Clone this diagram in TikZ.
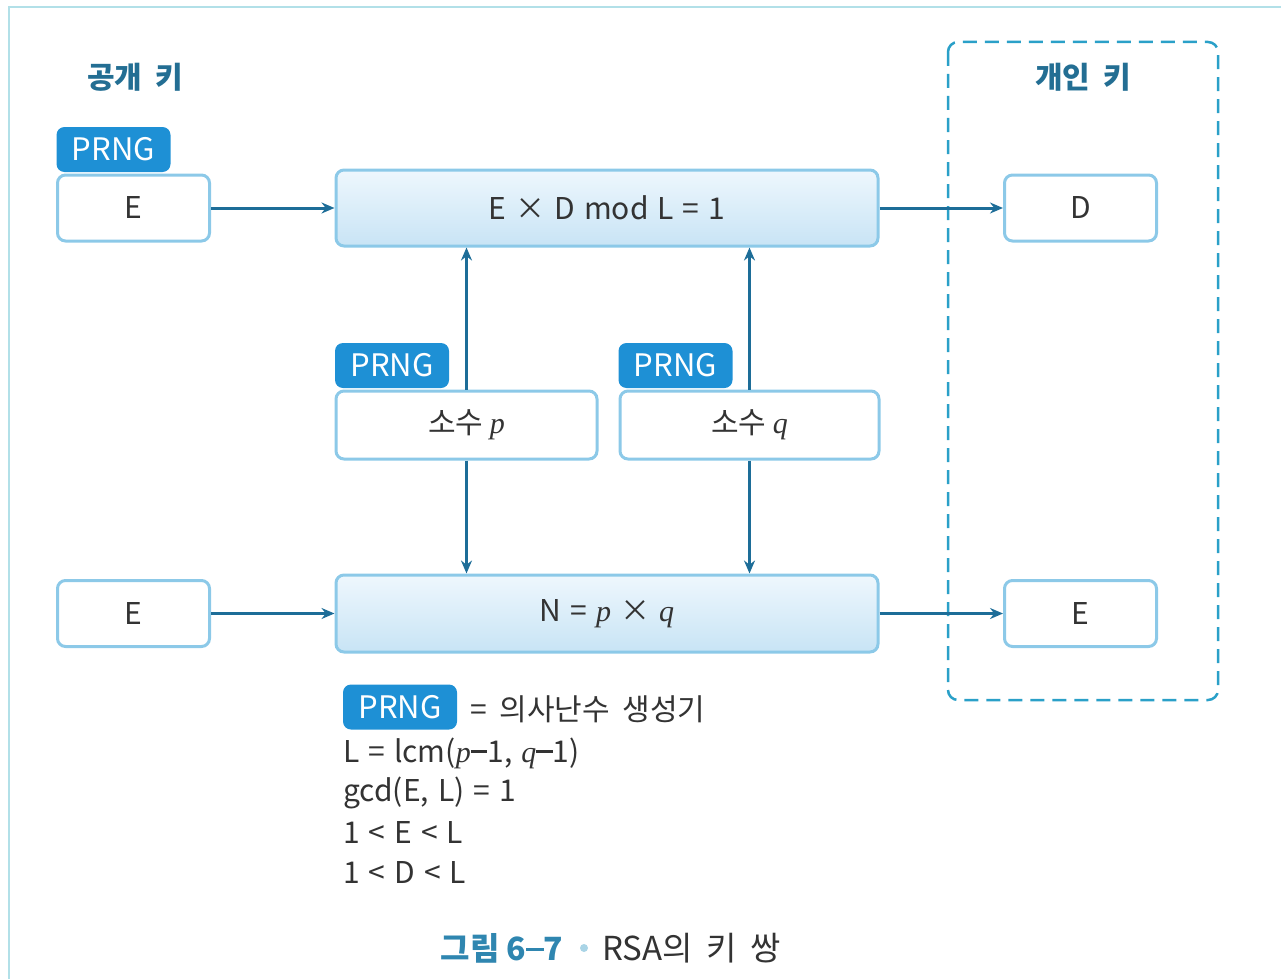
\documentclass[tikz,border=0pt]{standalone}
\usepackage{fontspec}
\setmainfont{Noto Sans CJK KR}
\newfontfamily\serifit{Liberation Serif}[ItalicFont=* Italic]
\usetikzlibrary{arrows.meta,calc}
\definecolor{arrc}{HTML}{1D6D98}
\definecolor{boxc}{HTML}{8CC9E8}
\definecolor{prngc}{HTML}{1E90D5}
\definecolor{headc}{HTML}{236E93}
\definecolor{dashc}{HTML}{2AA0C8}
\definecolor{framec}{HTML}{B2E0E8}
\definecolor{capc}{HTML}{2F86B0}
\definecolor{dotc}{HTML}{A9D4E6}
\definecolor{txtc}{HTML}{333333}
\definecolor{gtop}{HTML}{EEF7FD}
\definecolor{gbot}{HTML}{C8E4F5}
\newcommand{\mi}[1]{{\serifit\itshape #1}}
\newcommand{\mns}{\raisebox{0.3em}{\rule{0.55em}{2.6pt}}}
\newcommand{\wide}{\spaceskip=0.42em\relax}
\newcommand{\midw}{\spaceskip=0.3em\relax}
\begin{document}
\begin{tikzpicture}[x=1pt,y=-1pt,
  every node/.style={text=txtc, inner sep=0pt},
  keybox/.style={draw=boxc, line width=3pt, rounded corners=8pt, fill=white,
    minimum width=152pt, minimum height=66pt, font=\fontsize{30}{36}\selectfont},
  bigbox/.style={draw=boxc, line width=3pt, rounded corners=8pt, top color=gtop, bottom color=gbot,
    minimum width=542pt, minimum height=76pt, font=\fontsize{30}{36}\selectfont\midw},
  primebox/.style={draw=boxc, line width=3pt, rounded corners=8pt, fill=white,
    minimum height=68pt, font=\fontsize{30}{36}\selectfont},
  prng/.style={fill=prngc, rounded corners=8pt, text=white, minimum width=114pt, minimum height=45pt,
    font=\fontsize{31}{36}\selectfont},
  arr/.style={draw=arrc, line width=3pt, -{Stealth[length=13pt,width=11pt]}},
  head/.style={text=headc, font=\fontsize{30}{36}\selectfont\bfseries\wide},
  legend/.style={anchor=west, font=\fontsize{30}{36}\selectfont\midw}
]
\useasboundingbox (0,0) rectangle (1281,979);
% outer frame
\draw[framec, line width=2.5pt] (9,979) -- (9,7) -- (1281,7);
% dashed private-key frame
\draw[dashc, line width=2.5pt, dash pattern=on 14pt off 8pt, rounded corners=10pt] (948,42) rectangle (1218,700);
% headings
\node[head] (pubh) at (135,77) {공개 키};
\node[head] (privh) at (1083,77) {개인 키};
% top row
\node[prng] (prng1) at (113.5,149.5) {PRNG};
\node[keybox] (e1) at (133.5,208) {E};
\node[bigbox] (top) at (607,208) {E × D mod L = 1};
\node[keybox] (d) at (1080.5,208) {D};
% primes
\node[prng] (prngp) at (392,365.5) {PRNG};
\node[prng] (prngq) at (675.5,365.5) {PRNG};
\node[primebox, minimum width=261pt] (p) at (466.5,425) {소수 \mi{p}};
\node[primebox, minimum width=259pt] (q) at (749.5,425) {소수 \mi{q}};
% bottom row
\node[keybox] (e2) at (133.5,613.5) {E};
\node[bigbox, minimum height=77pt] (n) at (607,613.5) {N = \mi{p} × \mi{q}};
\node[keybox] (e3) at (1080.5,613.5) {E};
% arrows
\draw[arr] (e1.east) -- (top.west);
\draw[arr] (top.east) -- (d.west);
\draw[arr] (p.north) -- (p.north |- top.south);
\draw[arr] (q.north) -- (q.north |- top.south);
\draw[arr] (p.south) -- (p.south |- n.north);
\draw[arr] (q.south) -- (q.south |- n.north);
\draw[arr] (e2.east) -- (n.west);
\draw[arr] (n.east) -- (e3.west);
% legend
\node[prng] (prngl) at (400,707) {PRNG};
\node[legend, font=\fontsize{30}{36}\selectfont\wide] (leg0) at (470,709) {= 의사난수 생성기};
\node[legend] (leg1) at (343,753) {L = lcm(\mi{p}\mns1, \mi{q}\mns1)};
\node[legend] (leg2) at (343,793) {gcd(E, L) = 1};
\node[legend] (leg3) at (343,832) {1 < E < L};
\node[legend] (leg4) at (343,872) {1 < D < L};
% caption
\node[text=capc, font=\fontsize{32}{38}\selectfont\bfseries] (capn) at (502,948) {그림 6\mns7};
\fill[dotc] (584,948) circle (4pt);
\node[anchor=west, font=\fontsize{33}{38}\selectfont\wide] (capt) at (602,948) {RSA의 키 쌍};
\end{tikzpicture}
\end{document}
